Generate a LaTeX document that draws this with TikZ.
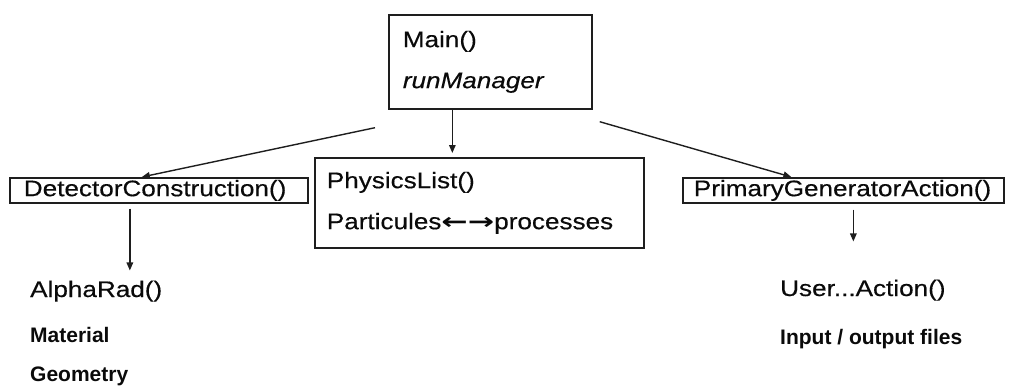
\documentclass[tikz,border=0pt]{standalone}
\usepackage{fontspec}
\setmainfont{Liberation Sans}
\newfontfamily\widefont{Liberation Sans}[FakeStretch=1.16,FakeBold=0.4]
\newfontfamily\arrowfont{DejaVu Sans}[FakeStretch=1.4]
\usetikzlibrary{arrows.meta,positioning}
\definecolor{boxline}{RGB}{30,30,30}
\definecolor{textcol}{RGB}{10,10,10}

\begin{document}
\begin{tikzpicture}[x=1pt,y=-1pt,
  classbox/.style={draw=boxline, line width=1.7pt, anchor=north west, inner xsep=14pt,
    align=left, text=textcol, font=\widefont\fontsize{22.5}{41}\selectfont},
  slimbox/.style={classbox, inner ysep=0pt, font=\widefont\fontsize{22.5}{25}\selectfont},
  label/.style={anchor=base west, text=textcol, inner sep=0pt, font=\widefont\fontsize{22.5}{25}\selectfont},
  note/.style={anchor=base west, text=textcol, inner sep=0pt, font=\fontsize{21}{24}\selectfont\bfseries},
  link/.style={draw=boxline, line width=1.4pt, -{Triangle[length=8pt,width=6.5pt]}},
]
\useasboundingbox (0,0) rectangle (1012,388);

% ---- Boxes ----
\node[classbox, minimum width=203pt, minimum height=94pt, text width=175pt] (main) at (388,14)
  {Main()\\ \textit{runManager}};
\node[slimbox, minimum width=298pt, minimum height=25pt, text width=270pt, inner xsep=14pt] (det) at (9,177)
  {DetectorConstruction()};
\node[classbox, minimum width=329pt, minimum height=90pt, text width=305pt, inner xsep=12pt] (phys) at (314,157)
  {PhysicsList()\\ Particules{\arrowfont\bfseries ←→}processes};
\node[slimbox, minimum width=321pt, minimum height=25pt, text width=299pt, inner xsep=11pt] (prim) at (682,177)
  {PrimaryGeneratorAction()};

% ---- Loose labels ----
\node[label] (alpha) at (30,297) {AlphaRad()};
\node[note] (mat) at (30,342) {Material};
\node[note] (geo) at (30,381) {Geometry};
\node[label] (user) at (780,296) {User...Action()};
\node[note] (files) at (780,344) {Input / output files};

% ---- Links ----
\draw[link] ([xshift=-13pt,yshift=-18pt]main.south west) -- ([xshift=-17pt]det.north);
\draw[link, shorten >=4pt] ([xshift=-38pt]main.south) -- ([xshift=-38pt]main.south |- phys.north);
\draw[link] ([xshift=7pt,yshift=-12pt]main.south east) -- ([xshift=-52pt]prim.north);
\draw[link, shorten >=10pt] ([xshift=-29pt,yshift=-5pt]det.south) -- ([xshift=-29pt]det.south |- alpha.north);
\draw[link, shorten >=38pt] ([xshift=10pt,yshift=-6pt]prim.south) -- ([xshift=10pt]prim.south |- user.north);
\end{tikzpicture}
\end{document}
